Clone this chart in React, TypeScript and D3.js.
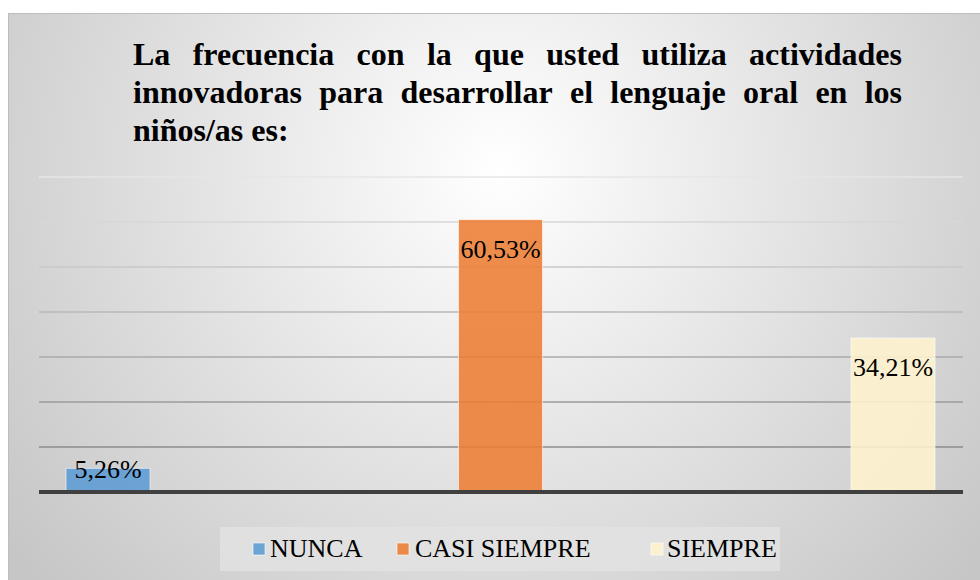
import React, { useLayoutEffect, useRef, useState } from "react";
import * as d3 from "d3";

const title = [
  "La frecuencia con la que usted utiliza actividades",
  "innovadoras para desarrollar el lenguaje oral en los",
  "niños/as es:",
];
const series = ["NUNCA", "CASI SIEMPRE", "SIEMPRE"];
const values = [5.26, 60.53, 34.21];
const labels = ["5,26%", "60,53%", "34,21%"];
const colors = ["#5b9bd5", "#ed7d31", "#fff2cc"];
const yTicks = [0, 10, 20, 30, 40, 50, 60, 70];

const W = 980, H = 580;
const plot = { left: 39, right: 963, top: 177, bottom: 492 };
const SERIF = "Times New Roman, Liberation Serif, Tinos, serif";

export default function App() {
  const y = d3.scaleLinear().domain([0, 70]).range([plot.bottom, plot.top]);
  const x = d3.scaleBand<string>().domain(series).range([66, 935]).paddingInner(0.786).paddingOuter(0);
  const gridColor = d3.interpolateRgb("#e6e6e6", "#8c8c8c");

  const tLeft = 133, tRight = 902;
  const titleRef = useRef<SVGGElement>(null);
  const [pos, setPos] = useState<number[][] | null>(null);

  useLayoutEffect(() => {
    const g = titleRef.current;
    if (!g) return;
    const measure = () => {
      const lines = Array.from(g.querySelectorAll("text"));
      const res = lines.map((t, li) => {
        const spans = Array.from(t.querySelectorAll("tspan")) as SVGTSpanElement[];
        const ws = spans.map((s) => s.getComputedTextLength());
        const justify = li < title.length - 1;
        const gap = justify ? (tRight - tLeft - d3.sum(ws)) / (ws.length - 1) : 8;
        let cx = tLeft;
        return ws.map((w) => {
          const px = cx;
          cx += w + gap;
          return px;
        });
      });
      setPos(res);
    };
    measure();
    if ((document as any).fonts?.ready) (document as any).fonts.ready.then(measure);
  }, []);

  const legendItems = [
    { sx: 253, tx: 270 },
    { sx: 397, tx: 415 },
    { sx: 651, tx: 667 },
  ];

  return (
    <svg width={W} height={H} style={{ position: "absolute", left: 0, top: 0, display: "block" }}>
      <defs>
        <radialGradient id="bg" gradientUnits="userSpaceOnUse" cx={500} cy={170} r={620}>
          <stop offset="0" stopColor="#ffffff" />
          <stop offset="1" stopColor="#c6c6c6" />
        </radialGradient>
      </defs>
      <rect x={0} y={0} width={W} height={H} fill="#ffffff" />
      <rect x={8.5} y={13.5} width={W} height={H} fill="url(#bg)" stroke="#bdbdbd" strokeWidth={1} />

      <g ref={titleRef} fontFamily={SERIF}>
        {title.map((line, li) => (
          <text key={li} y={65 + li * 38} fontFamily={SERIF} fontWeight="bold" fontSize={32} fill="#000">
            {line.split(" ").map((w, i) => (
              <tspan key={i} x={pos ? pos[li][i] : tLeft + i * 60}>{w}</tspan>
            ))}
          </text>
        ))}
      </g>

      {yTicks.slice(1).map((t, i) => (
        <line key={t} x1={plot.left} x2={plot.right} y1={y(t)} y2={y(t)}
          stroke={gridColor(1 - i / (yTicks.length - 2))} strokeWidth={1.5} />
      ))}

      {series.map((s, i) => (
        <rect key={s} x={x(s)} y={y(values[i])} width={x.bandwidth()} height={y(0) - y(values[i])}
          fill={colors[i]} fillOpacity={0.87} stroke="#ffffff" strokeOpacity={0.6} strokeWidth={1} />
      ))}

      <line x1={plot.left} x2={plot.right} y1={y(0)} y2={y(0)} stroke="#404040" strokeWidth={4} />

      <g fontFamily={SERIF}>
        {series.map((s, i) => (
          <text key={s} x={x(s)! + x.bandwidth() / 2} y={Math.min(y(values[i]) + 38, y(0) - 14)}
            textAnchor="middle" fontFamily={SERIF} fontSize={26} fill="#000">
            {labels[i]}
          </text>
        ))}
      </g>

      <rect x={220} y={527} width={560} height={44} fill="#e2e2e2" fillOpacity={0.8} />
      <g fontFamily={SERIF}>
        {series.map((s, i) => (
          <g key={s}>
            <rect x={legendItems[i].sx} y={543} width={12} height={12} fill={colors[i]} fillOpacity={0.87}
              stroke="#ffffff" strokeOpacity={0.6} />
            <text x={legendItems[i].tx} y={557} fontFamily={SERIF} fontSize={26} fill="#000">{s}</text>
          </g>
        ))}
      </g>
    </svg>
  );
}
